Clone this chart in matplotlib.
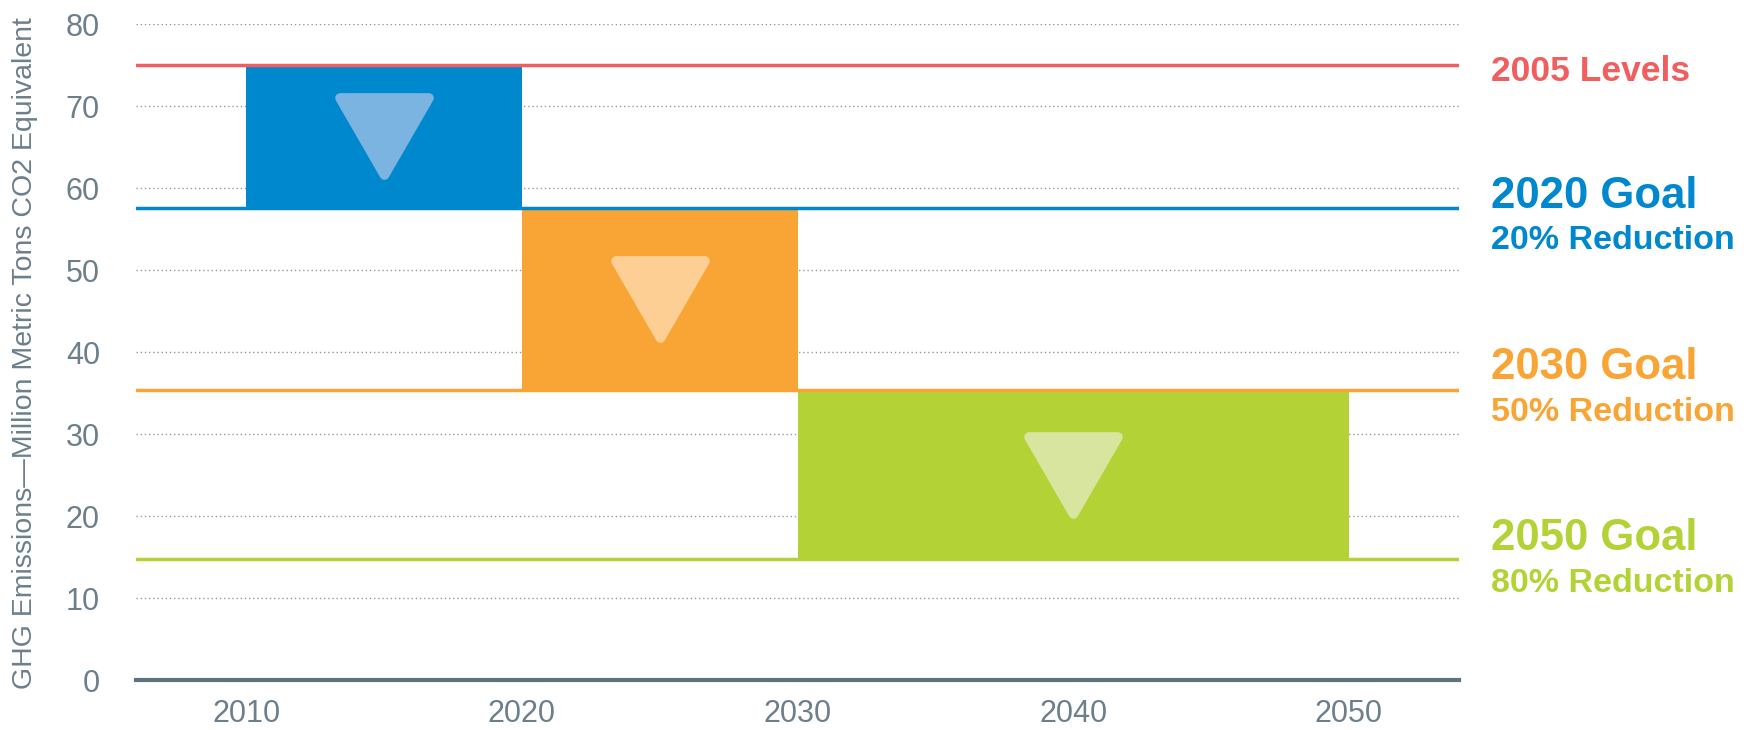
import matplotlib
matplotlib.use("Agg")
import matplotlib.pyplot as plt
import matplotlib.transforms as mtransforms
from matplotlib.markers import MarkerStyle
from matplotlib.path import Path

# ---- data ----
level_names = ["2005 Levels", "2020 Goal", "2030 Goal", "2050 Goal"]
level_values = [75.0, 57.6, 35.4, 14.7]
reduction_labels = [None, "20% Reduction", "50% Reduction", "80% Reduction"]

period_start = [2010, 2020, 2030]
period_end = [2020, 2030, 2050]
period_top = [75.0, 57.6, 35.4]
period_bottom = [57.6, 35.4, 14.7]

x_ticks = [2010, 2020, 2030, 2040, 2050]
y_ticks = [0, 10, 20, 30, 40, 50, 60, 70, 80]
y_label = "GHG Emissions\u2014Million Metric Tons CO2 Equivalent"

# ---- styles ----
level_colors = ["#F15E5E", "#0088CE", "#F9A535", "#B2D235"]
bar_colors = ["#0088CE", "#F9A535", "#B2D235"]
tri_colors = ["#7BB4E1", "#FDCF94", "#D8E59F"]
gray = "#6C7F8A"
axis_color = "#5E737E"

fig = plt.figure(figsize=(17.58, 7.29), dpi=100)
ax = fig.add_axes([0.0774, 0.0672, 0.7526, 0.8998])
ax.set_xlim(2006, 2054)
ax.set_ylim(0, 80)

for s in ax.spines.values():
    s.set_visible(False)

ax.set_yticks(y_ticks)
ax.set_xticks(x_ticks)
ax.tick_params(axis="both", length=0, labelsize=22, labelcolor=gray)
ax.tick_params(axis="y", pad=26)
ax.tick_params(axis="x", pad=14)
for lab in ax.get_xticklabels() + ax.get_yticklabels():
    lab.set_fontfamily("Liberation Sans")

ax.yaxis.grid(True, linestyle=(0, (1, 2)), color="#8E9BA2", linewidth=1.0)
ax.set_axisbelow(True)

# bars
widths = [e - s for s, e in zip(period_start, period_end)]
heights = [t - b for t, b in zip(period_top, period_bottom)]
ax.bar(period_start, heights, width=widths, bottom=period_bottom, align="edge",
       color=bar_colors, edgecolor="none", zorder=2)

# level lines
for v, c in zip(level_values, level_colors):
    ax.axhline(v, color=c, linewidth=2.5, zorder=3)

ax.axhline(0, color=axis_color, linewidth=3, zorder=4, clip_on=False)

# triangles (rounded corners)
tri_path = Path([(-0.5, 0.433), (0.5, 0.433), (0.0, -0.433), (-0.5, 0.433)],
                closed=True)
tri = MarkerStyle(tri_path, joinstyle="round")
for s, e, t, b, c in zip(period_start, period_end, period_top, period_bottom, tri_colors):
    ax.plot([(s + e) / 2], [(t + b) / 2], linestyle="none", marker=tri,
            markersize=64, markerfacecolor=c, markeredgecolor=c,
            markeredgewidth=7, zorder=3)

# right-hand labels
trans = mtransforms.blended_transform_factory(fig.transFigure, ax.transData)
label_x = 0.848
name_baselines = [73.1, 57.6, 36.7, 15.9]
red_baselines = [None, 52.6, 31.6, 10.7]
name_sizes = [25.5, 31.5, 31.5, 31.5]
for i, (name, c) in enumerate(zip(level_names, level_colors)):
    fig.text(label_x, name_baselines[i], name, transform=trans, color=c,
             fontsize=name_sizes[i], fontweight="bold", family="Liberation Sans",
             ha="left", va="baseline")
    if reduction_labels[i]:
        fig.text(label_x, red_baselines[i], reduction_labels[i], transform=trans,
                 color=c, fontsize=24.5, fontweight="bold", family="Liberation Sans",
                 ha="left", va="baseline")

fig.text(0.0142, 0.516, y_label, rotation=90, ha="center", va="center",
         fontsize=20.5, color=gray, family="Liberation Sans")

fig.savefig("out.png", dpi=100)
